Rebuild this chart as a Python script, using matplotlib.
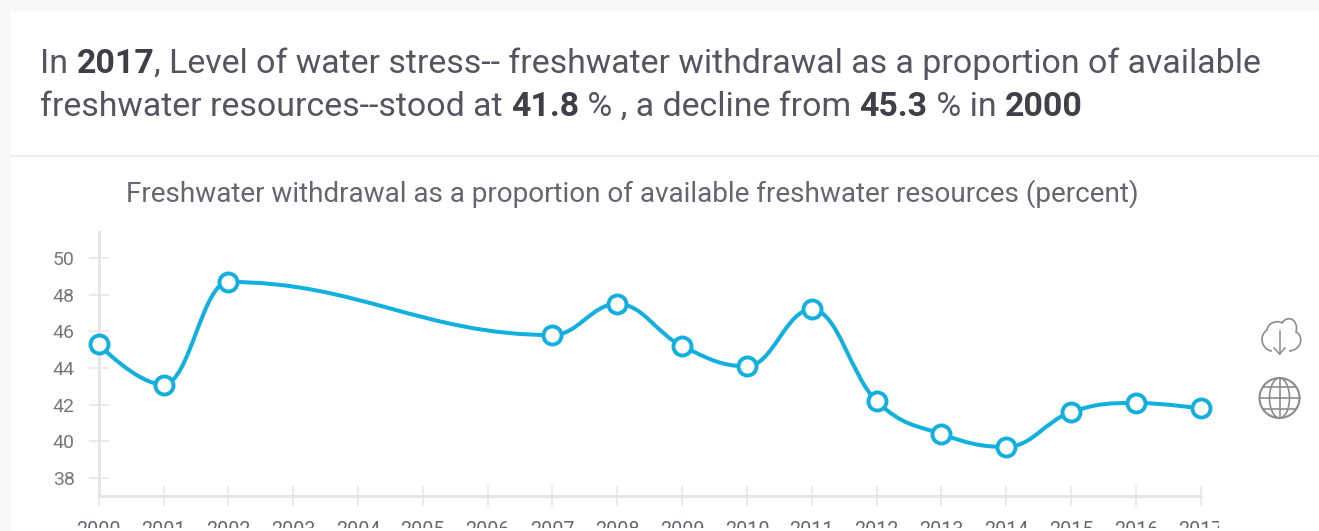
import numpy as np
import matplotlib
matplotlib.use('Agg')
import matplotlib.pyplot as plt
from matplotlib.path import Path
from matplotlib.patches import PathPatch, Rectangle, Circle, Ellipse
from matplotlib.transforms import Bbox

plt.rcParams['font.family'] = ['Roboto', 'DejaVu Sans']

W, H = 1319, 531

years = [2000, 2001, 2002, 2007, 2008, 2009, 2010, 2011, 2012, 2013, 2014, 2015, 2016, 2017]
values = [45.3, 43.1, 48.7, 45.8, 47.5, 45.2, 44.1, 47.2, 42.2, 40.4, 39.7, 41.6, 42.1, 41.8]
tick_years = [2000, 2001, 2002, 2003, 2004, 2005, 2006, 2007, 2008,
              2009, 2010, 2011, 2012, 2013, 2014, 2015, 2016, 2017]
y_ticks = [38, 40, 42, 44, 46, 48, 50]

line1 = [('In ', False), ('2017', True),
         (', Level of water stress-- freshwater withdrawal as a proportion of available', False)]
line2 = [('freshwater resources--stood at ', False), ('41.8', True), (' % , a decline from ', False),
         ('45.3', True), (' % in ', False), ('2000', True)]
chart_title = 'Freshwater withdrawal as a proportion of available freshwater resources (percent)'

LINE = '#12b0de'
AXIS = '#e6e6ea'
TEXT = '#55555f'
HEAD_SIZE = 24.4


def spline_path(xs, ys):
    # same control points a highcharts spline uses
    verts = [(xs[0], ys[0])]
    codes = [Path.MOVETO]
    prev_right = (xs[0], ys[0])
    s = 1.5
    d = 2.5
    for i in range(1, len(xs)):
        x, y = xs[i], ys[i]
        if i < len(xs) - 1:
            lx, ly = (s * x + xs[i - 1]) / d, (s * y + ys[i - 1]) / d
            rx, ry = (s * x + xs[i + 1]) / d, (s * y + ys[i + 1]) / d
            c = (ry - ly) * (rx - x) / (rx - lx) + y - ry
            ly += c
            ry += c
            if ly > ys[i - 1] and ly > y:
                ly = max(ys[i - 1], y)
                ry = 2 * y - ly
            elif ly < ys[i - 1] and ly < y:
                ly = min(ys[i - 1], y)
                ry = 2 * y - ly
            if ry > ys[i + 1] and ry > y:
                ry = max(ys[i + 1], y)
                ly = 2 * y - ry
            elif ry < ys[i + 1] and ry < y:
                ry = min(ys[i + 1], y)
                ly = 2 * y - ry
        else:
            lx, ly = x, y
            rx, ry = x, y
        verts += [prev_right, (lx, ly), (x, y)]
        codes += [Path.CURVE4, Path.CURVE4, Path.CURVE4]
        prev_right = (rx, ry)
    return Path(verts, codes)


fig = plt.figure(figsize=(W / 100, H / 100), dpi=100, facecolor='#f8f8f8')

# page layer in pixel coordinates, y going down
bg = fig.add_axes([0, 0, 1, 1])
bg.set_xlim(0, W)
bg.set_ylim(H, 0)
bg.axis('off')
bg.add_patch(Rectangle((11, 11), W, H, fc='white', ec='none'))
bg.plot([11, W], [155.5, 155.5], color='#efefef', lw=1.5)

renderer = fig.canvas.get_renderer()


def text_width(txt, weight):
    # bars on both sides so the spaces at the ends get counted
    a = bg.text(0, 0, '|' + txt + '|', fontsize=HEAD_SIZE, fontweight=weight)
    b = bg.text(0, 0, '||', fontsize=HEAD_SIZE, fontweight=weight)
    width = a.get_window_extent(renderer).width - b.get_window_extent(renderer).width
    a.remove()
    b.remove()
    return width


# headline with bold pieces, placed one after the other
for pieces, ypos in [(line1, 64), (line2, 107)]:
    xpos = 40
    for txt, bold in pieces:
        weight = 'bold' if bold else 'normal'
        bg.text(xpos, ypos, txt, fontsize=HEAD_SIZE, color='#3f3f48' if bold else TEXT,
                fontweight=weight, va='center', ha='left')
        xpos += text_width(txt, weight)

bg.text(632.5, 194, chart_title, fontsize=20.1, color='#666670', ha='center', va='center')

# download and globe icons
ICON = '#8c8c8c'
cloud = Path([(1272, 351), (1262, 350), (1258, 336), (1267, 330), (1268, 322), (1278, 320), (1282, 323),
              (1288, 314), (1299, 320), (1296, 332), (1304, 336), (1302, 350), (1289, 351)],
             [Path.MOVETO, Path.CURVE4, Path.CURVE4, Path.CURVE4, Path.CURVE4, Path.CURVE4, Path.CURVE4,
              Path.CURVE4, Path.CURVE4, Path.CURVE4, Path.CURVE4, Path.CURVE4, Path.CURVE4])
bg.add_patch(PathPatch(cloud, fc='none', ec=ICON, lw=1.2))
bg.plot([1279.5, 1279.5], [331, 354], color=ICON, lw=1.1)
bg.plot([1274, 1279.5, 1285], [348, 354, 348], color=ICON, lw=1.1)
bg.add_patch(Circle((1279.5, 398), 20, fc='none', ec=ICON, lw=1.5))
bg.add_patch(Ellipse((1279.5, 398), 20, 40, fc='none', ec=ICON, lw=1.2))
bg.plot([1279.5, 1279.5], [378, 418], color=ICON, lw=1.2)
bg.plot([1259.5, 1299.5], [398, 398], color=ICON, lw=1.2)
bg.plot([1263, 1296], [387, 387], color=ICON, lw=1.2)
bg.plot([1263, 1296], [409, 409], color=ICON, lw=1.2)

# chart
ax = fig.add_axes([98.7 / W, (H - 496.4) / H, (1200.7 - 98.7) / W, (496.4 - 232.4) / H])
ax.patch.set_alpha(0)
ax.set_xlim(2000, 2017)
ax.set_ylim(37, 37 + 264 / 18.33)
ax.add_patch(PathPatch(spline_path(years, values), fc='none', ec=LINE, lw=2.9, clip_on=False,
                       capstyle='round', joinstyle='round', zorder=3))
ax.plot(years, values, ls='none', marker='o', ms=13, mfc='white', mec=LINE, mew=2.8,
        clip_on=False, zorder=4)

for side in ['top', 'right']:
    ax.spines[side].set_visible(False)
for side in ['left', 'bottom']:
    ax.spines[side].set_color(AXIS)
    ax.spines[side].set_linewidth(2.2)

ax.set_yticks(y_ticks)
ax.set_xticks(tick_years)
ax.tick_params(axis='y', direction='inout', length=14.5, width=1.1, color=AXIS,
               labelsize=14, labelcolor='#777780', pad=10)
ax.tick_params(axis='x', direction='inout', length=14.5, width=1.1, color=AXIS,
               labelsize=14.2, labelcolor='#666670', pad=10.5)

# the screenshot cuts the year labels off at the bottom and right
cut = Bbox([[0, H - 528], [1219, H]])
fig.canvas.draw()
for lab in ax.get_xticklabels():
    lab.set_clip_box(cut)
    lab.set_clip_on(True)

fig.savefig('out.png', dpi=100, facecolor=fig.get_facecolor())
